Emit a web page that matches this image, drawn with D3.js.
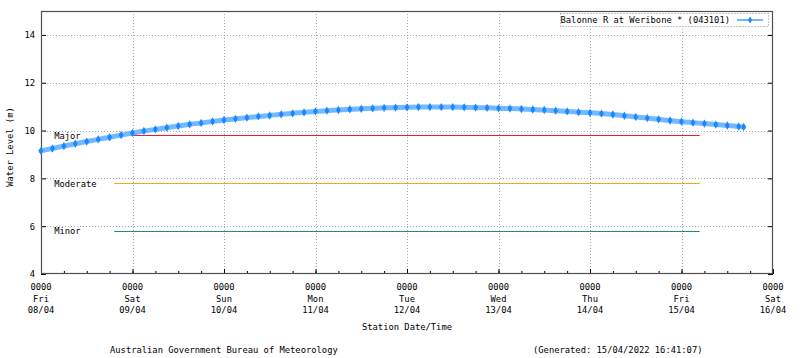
<!DOCTYPE html>
<html><head><meta charset="utf-8">
<script src="https://cdn.jsdelivr.net/npm/d3@7"></script>
<style>
html,body{margin:0;padding:0;background:#fff;}
svg{display:block;}
text{font-family:"DejaVu Sans Mono",monospace;font-size:8.8px;fill:#000;}
</style></head>
<body>
<svg id="chart" width="800" height="358"></svg>
<script>
// ---- data ----
const seriesName = "Balonne R at Weribone * (043101)";
// hours after Fri 08/04/2022 00:00
const readingHours = [
  0,3,6,9,12,15,18,21,
  24,27,30,33,36,39,42,45,
  48,51,54,57,60,63,66,69,
  72,75,78,81,84,87,90,93,
  96,99,102,105,108,111,114,117,
  120,123,126,129,132,135,138,141,
  144,147,150,153,156,159,162,165,
  168,171,174,177,180,183,184.3
];
const waterLevels = [
  9.15,9.25,9.35,9.45,9.54,9.63,9.72,9.81,
  9.90,9.98,10.05,10.12,10.19,10.26,10.32,10.38,
  10.44,10.49,10.54,10.59,10.63,10.68,10.72,10.76,
  10.80,10.83,10.86,10.89,10.91,10.93,10.95,10.96,
  10.97,10.98,10.98,10.98,10.98,10.97,10.96,10.95,
  10.93,10.92,10.90,10.88,10.86,10.83,10.80,10.77,
  10.74,10.71,10.67,10.62,10.57,10.52,10.47,10.42,
  10.37,10.33,10.29,10.25,10.21,10.17,10.15
];
const thresholdNames = ["Major","Moderate","Minor"];
const thresholdLevels = [9.8, 7.8, 5.8];
const yTickValues = [4,6,8,10,12,14];
const dayNames = ["Fri","Sat","Sun","Mon","Tue","Wed","Thu","Fri","Sat"];
const dayDates = ["08/04","09/04","10/04","11/04","12/04","13/04","14/04","15/04","16/04"];
const xTimeLabel = "0000";
const xTitle = "Station Date/Time";
const yTitle = "Water Level (m)";
const footerLeft = "Australian Government Bureau of Meteorology";
const footerRight = "(Generated: 15/04/2022 16:41:07)";

// ---- styles ----
const thresholdColors = ["#e8202a","#f2a81d","#24915a"];
const lineColor = "#74b9ff";
const markerColor = "#1a87ff";

// ---- layout ----
const svg = d3.select("#chart");
const L = 41, R = 773, T = 11, B = 274;
const start = new Date(2022,3,8,0,0);
const end = new Date(2022,3,16,0,0);
const x = d3.scaleTime().domain([start,end]).range([L,R]);
const y = d3.scaleLinear().domain([4,15]).range([B,T]);
const toDate = h => new Date(start.getTime() + h*3600e3);
const data = readingHours.map((h,i)=>({t:toDate(h), v:waterLevels[i]}));
const days = d3.timeDay.range(start, d3.timeDay.offset(end,1));

// grid
const grid = svg.append("g").attr("stroke","#a8a8a8").attr("stroke-dasharray","1,2").attr("stroke-width",1);
grid.selectAll("line.gy").data(yTickValues.filter(v=>v>4)).join("line")
  .attr("x1",L).attr("x2",R).attr("y1",d=>Math.round(y(d))+0.5).attr("y2",d=>Math.round(y(d))+0.5);
grid.selectAll("line.gx").data(days.slice(1,-1)).join("line")
  .attr("y1",T).attr("y2",B).attr("x1",d=>Math.round(x(d))+0.5).attr("x2",d=>Math.round(x(d))+0.5);

// thresholds
const span = end - start;
const tx1 = new Date(start.getTime()+span*0.1), tx2 = new Date(start.getTime()+span*0.9);
const tlab = new Date(start.getTime()+span*0.018);
thresholdLevels.forEach((lv,i)=>{
  svg.append("line").attr("x1",x(tx1)).attr("x2",x(tx2))
    .attr("y1",Math.round(y(lv))+0.5).attr("y2",Math.round(y(lv))+0.5)
    .attr("stroke",thresholdColors[i]).attr("stroke-width",1);
  svg.append("text").attr("x",x(tlab)).attr("y",y(lv)+1).attr("dominant-baseline","middle")
    .text(thresholdNames[i]);
});

// axes
const ax = svg.append("g").attr("fill","none");
const left = ax.append("g").attr("transform",`translate(${L},0)`)
  .call(d3.axisLeft(y).tickValues(yTickValues).tickSize(-5).tickPadding(6).tickFormat(d3.format("d")));
const right = ax.append("g").attr("transform",`translate(${R},0)`)
  .call(d3.axisRight(y).tickValues(yTickValues).tickSize(-5).tickFormat(""));
const bottomMinor = ax.append("g").attr("transform",`translate(0,${B})`)
  .call(d3.axisBottom(x).tickValues(d3.timeHour.every(6).range(start,end)).tickSize(-3).tickFormat(""));
const bottom = ax.append("g").attr("transform",`translate(0,${B})`)
  .call(d3.axisBottom(x).tickValues(days).tickSize(-5).tickFormat(""));
[left,right,bottomMinor,bottom].forEach(g=>{
  g.select(".domain").remove();
  g.selectAll("line").attr("stroke","#000");
  g.selectAll("text").attr("font-family","DejaVu Sans Mono").attr("font-size","8.8px").attr("fill","#000");
});
// multi-line x labels
const xl = svg.append("g").selectAll("text").data(days).join("text")
  .attr("text-anchor","middle").attr("x",d=>x(d));
xl.append("tspan").attr("x",d=>x(d)).attr("y",290).text(xTimeLabel);
xl.append("tspan").attr("x",d=>x(d)).attr("y",301.5).text((d,i)=>dayNames[i]);
xl.append("tspan").attr("x",d=>x(d)).attr("y",313).text((d,i)=>dayDates[i]);

// border
svg.append("rect").attr("x",L+0.5).attr("y",T+0.5).attr("width",R-L-1).attr("height",B-T-1)
  .attr("fill","none").attr("stroke","#505050").attr("stroke-width",1.2);

// series
const line = d3.line().x(d=>x(d.t)).y(d=>y(d.v)).curve(d3.curveMonotoneX);
svg.append("path").datum(data).attr("d",line).attr("fill","none")
  .attr("stroke",lineColor).attr("stroke-width",5).attr("stroke-linecap","round");
svg.append("g").selectAll("path").data(data).join("path")
  .attr("transform",d=>`translate(${x(d.t)},${y(d.v)})`)
  .attr("d",d3.symbol(d3.symbolDiamond,20)).attr("fill",markerColor);

// legend
const lg = svg.append("g");
lg.append("rect").attr("x",560.5).attr("y",13.5).attr("width",208).attr("height",13)
  .attr("fill","#fff").attr("stroke","#888").attr("stroke-dasharray","1,2");
lg.append("text").attr("x",730).attr("y",20.5).attr("text-anchor","end").attr("dominant-baseline","middle")
  .text(seriesName);
lg.append("line").attr("x1",737).attr("x2",763).attr("y1",20).attr("y2",20)
  .attr("stroke",lineColor).attr("stroke-width",2);
lg.append("path").attr("transform","translate(750,20)").attr("d",d3.symbol(d3.symbolDiamond,14)).attr("fill",markerColor);

// titles
svg.append("text").attr("x",407).attr("y",327).attr("text-anchor","middle").attr("dominant-baseline","middle").text(xTitle);
svg.append("text").attr("transform","translate(10,147) rotate(-90)").attr("text-anchor","middle").attr("dominant-baseline","middle").text(yTitle);
svg.append("text").attr("x",110).attr("y",350).attr("dominant-baseline","middle").text(footerLeft);
svg.append("text").attr("x",533).attr("y",350).attr("dominant-baseline","middle").text(footerRight);
</script>
</body></html>
